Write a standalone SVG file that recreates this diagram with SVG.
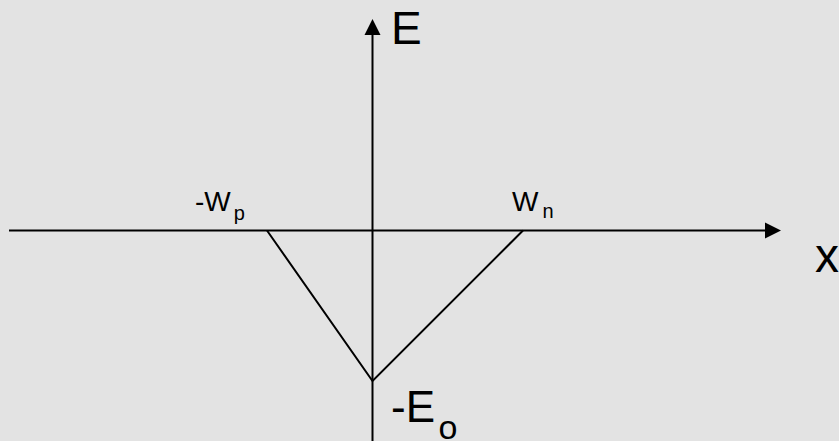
<svg xmlns="http://www.w3.org/2000/svg" width="839" height="441" viewBox="0 0 839 441">
<style>
.ax{stroke:#000;stroke-width:2;fill:none}
.hd{fill:#000}
.t{font-family:"Liberation Sans",Arial,sans-serif;fill:#000}
</style>
<rect width="839" height="441" fill="#e3e3e3"/>
<g id="connectors">
<line class="ax" x1="9" y1="230.5" x2="766" y2="230.5"/>
<polygon class="hd" points="781,230.5 765,222.5 765,238.5"/>
<line class="ax" x1="372.5" y1="441" x2="372.5" y2="34"/>
<polygon class="hd" points="372.5,19 364.5,35 380.5,35"/>
<polyline class="ax" points="267,230.5 372.5,381 523,230.5"/>
</g>
<g id="label-E"><text class="t" x="391" y="44" font-size="46">E</text></g>
<g id="label-x"><text class="t" x="815" y="272" font-size="48">x</text></g>
<g id="label-Wp"><text class="t" x="195" y="211" font-size="28">-W<tspan font-size="20" dx="3" y="220">p</tspan></text></g>
<g id="label-Wn"><text class="t" x="512" y="211" font-size="28">W<tspan font-size="20" dx="4" y="218">n</tspan></text></g>
<g id="label-Eo"><text class="t" x="391" y="422" font-size="44">-E<tspan font-size="34" dx="3.5" y="439">o</tspan></text></g>
</svg>
